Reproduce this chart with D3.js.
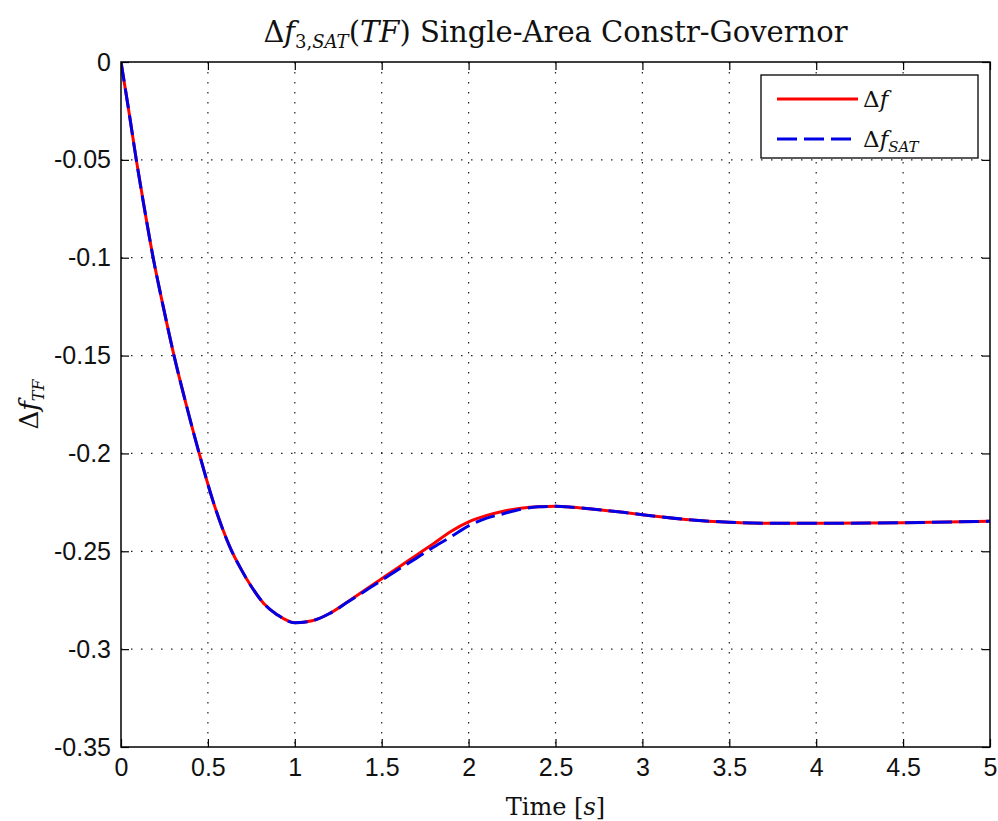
<!DOCTYPE html>
<html>
<head>
<meta charset="utf-8">
<script src="https://cdn.jsdelivr.net/npm/d3@7"></script>
<style>
  html, body { margin: 0; padding: 0; background: #fff; }
  svg { display: block; }
</style>
</head>
<body>
<div id="chart"></div>
<script>
// chart data
const timeVals = [0, 0.045, 0.088, 0.135, 0.185, 0.243, 0.305, 0.375, 0.45, 0.53, 0.58, 0.63, 0.69, 0.75, 0.82, 0.90,
  1.0, 1.1, 1.2, 1.3, 1.4, 1.5, 1.6, 1.7, 1.8, 1.9, 2.0, 2.1, 2.2, 2.3, 2.4, 2.5, 2.6, 2.75, 2.9, 3.0, 3.25, 3.5, 3.75, 4.0, 4.5, 5.0];
const dfVals = [0, -0.025, -0.050, -0.075, -0.100, -0.125, -0.150, -0.175, -0.200, -0.2245, -0.2375, -0.2485, -0.259, -0.268, -0.2765, -0.2825,
  -0.2865, -0.2855, -0.2818, -0.2760, -0.2700, -0.2640, -0.2580, -0.2520, -0.2460, -0.2398, -0.2350, -0.2318, -0.2295, -0.2280, -0.2272, -0.2270, -0.2275, -0.2288, -0.2302, -0.2313, -0.2337, -0.2352, -0.2357, -0.2357, -0.2354, -0.2346];
const dfSatVals = [0, -0.025, -0.050, -0.075, -0.100, -0.125, -0.150, -0.175, -0.200, -0.2245, -0.2375, -0.2485, -0.259, -0.268, -0.2765, -0.2825,
  -0.2865, -0.2855, -0.2818, -0.2762, -0.2705, -0.2648, -0.2590, -0.2535, -0.2478, -0.2425, -0.2370, -0.2332, -0.2308, -0.2285, -0.2273, -0.2270, -0.2275, -0.2288, -0.2302, -0.2313, -0.2337, -0.2352, -0.2357, -0.2357, -0.2354, -0.2346];

const xTicks = [0, 0.5, 1, 1.5, 2, 2.5, 3, 3.5, 4, 4.5, 5];
const xTickLabels = ["0", "0.5", "1", "1.5", "2", "2.5", "3", "3.5", "4", "4.5", "5"];
const yTicks = [0, -0.05, -0.1, -0.15, -0.2, -0.25, -0.3, -0.35];
const yTickLabels = ["0", "-0.05", "-0.1", "-0.15", "-0.2", "-0.25", "-0.3", "-0.35"];

const WIDTH = 998;
const HEIGHT = 821;
const PLOT = {left: 121, right: 990, top: 62, bottom: 747};
const TICK_LEN = 8;
const SANS = "'Liberation Sans', Arial, sans-serif";
const SERIF = "'DejaVu Serif', serif";

const svg = d3.select("#chart").append("svg").attr("width", WIDTH).attr("height", HEIGHT);
svg.append("rect").attr("width", WIDTH).attr("height", HEIGHT).attr("fill", "#fff");

const x = d3.scaleLinear().domain([0, 5]).range([PLOT.left, PLOT.right]);
const y = d3.scaleLinear().domain([-0.35, 0]).range([PLOT.bottom, PLOT.top]);

//dotted grid
const grid = svg.append("g").attr("stroke", "#222").attr("stroke-width", 1.2).attr("stroke-dasharray", "1.5,8.5");
grid.selectAll("line.gx").data(xTicks.slice(1, -1)).enter().append("line")
  .attr("x1", d => x(d)).attr("x2", d => x(d)).attr("y1", PLOT.top).attr("y2", PLOT.bottom);
grid.selectAll("line.gy").data(yTicks.slice(1, -1)).enter().append("line")
  .attr("y1", d => y(d)).attr("y2", d => y(d)).attr("x1", PLOT.left).attr("x2", PLOT.right);

//curves
svg.append("clipPath").attr("id", "clip").append("rect")
  .attr("x", PLOT.left).attr("y", PLOT.top).attr("width", PLOT.right - PLOT.left).attr("height", PLOT.bottom - PLOT.top);

const line = d3.line().x(d => x(d[0])).y(d => y(d[1])).curve(d3.curveMonotoneX);
const curves = svg.append("g").attr("clip-path", "url(#clip)").attr("fill", "none");
curves.append("path").attr("d", line(timeVals.map((t, i) => [t, dfVals[i]])))
  .attr("stroke", "#f00").attr("stroke-width", 3);
curves.append("path").attr("d", line(timeVals.map((t, i) => [t, dfSatVals[i]])))
  .attr("stroke", "#0000e6").attr("stroke-width", 3).attr("stroke-dasharray", "20,7");

//axes, all ticks pointing inwards
function styleAxis(g) {
  g.select(".domain").remove();
  g.selectAll(".tick line").attr("stroke", "#000").attr("stroke-width", 1.2);
  g.selectAll("text").attr("font-family", SANS).attr("font-size", 25).attr("fill", "#111");
}
svg.append("g").attr("transform", `translate(0,${PLOT.bottom})`)
  .call(d3.axisBottom(x).tickValues(xTicks).tickFormat((d, i) => xTickLabels[i]).tickSize(-TICK_LEN).tickPadding(11))
  .call(styleAxis);
svg.append("g").attr("transform", `translate(0,${PLOT.top})`)
  .call(d3.axisTop(x).tickValues(xTicks).tickFormat("").tickSize(-TICK_LEN))
  .call(styleAxis);
svg.append("g").attr("transform", `translate(${PLOT.left},0)`)
  .call(d3.axisLeft(y).tickValues(yTicks).tickFormat((d, i) => yTickLabels[i]).tickSize(-TICK_LEN).tickPadding(10))
  .call(styleAxis);
svg.append("g").attr("transform", `translate(${PLOT.right},0)`)
  .call(d3.axisRight(y).tickValues(yTicks).tickFormat("").tickSize(-TICK_LEN))
  .call(styleAxis);

svg.append("rect").attr("x", PLOT.left).attr("y", PLOT.top)
  .attr("width", PLOT.right - PLOT.left).attr("height", PLOT.bottom - PLOT.top)
  .attr("fill", "none").attr("stroke", "#000").attr("stroke-width", 1.5);

//title
const title = svg.append("text").attr("x", (PLOT.left + PLOT.right) / 2).attr("y", 42)
  .attr("text-anchor", "middle").attr("font-family", SERIF).attr("font-size", 29).attr("fill", "#111");
title.append("tspan").text("Δ");
title.append("tspan").attr("font-style", "italic").text("f");
title.append("tspan").attr("font-size", 18).attr("dy", 6).text("3,");
title.append("tspan").attr("font-size", 18).attr("font-style", "italic").text("SAT");
title.append("tspan").attr("dy", -6).text("(");
title.append("tspan").attr("font-style", "italic").text("TF");
title.append("tspan").text(") Single-Area Constr-Governor");

//axis labels
const xLabel = svg.append("text").attr("x", (PLOT.left + PLOT.right) / 2).attr("y", 815)
  .attr("text-anchor", "middle").attr("font-family", SERIF).attr("font-size", 24).attr("fill", "#111");
xLabel.append("tspan").text("Time [");
xLabel.append("tspan").attr("font-style", "italic").text("s");
xLabel.append("tspan").text("]");

const yLabel = svg.append("text")
  .attr("transform", `translate(38,${(PLOT.top + PLOT.bottom) / 2}) rotate(-90)`)
  .attr("text-anchor", "middle").attr("font-family", SERIF).attr("font-size", 26).attr("fill", "#111");
yLabel.append("tspan").text("Δ");
yLabel.append("tspan").attr("font-style", "italic").text("f");
yLabel.append("tspan").attr("font-size", 16).attr("font-style", "italic").attr("dy", 6).text("TF");

//legend
const legend = svg.append("g");
legend.append("rect").attr("x", 761).attr("y", 75).attr("width", 217).attr("height", 83)
  .attr("fill", "#fff").attr("stroke", "#000").attr("stroke-width", 1.3);
const legendItems = [
  {label: "f", sub: "", color: "#f00", dash: null, yPos: 99},
  {label: "f", sub: "SAT", color: "#0000e6", dash: "20,7", yPos: 139}
];
legendItems.forEach(item => {
  legend.append("line").attr("x1", 777).attr("x2", 858).attr("y1", item.yPos).attr("y2", item.yPos)
    .attr("stroke", item.color).attr("stroke-width", 3).attr("stroke-dasharray", item.dash);
  const t = legend.append("text").attr("x", 863).attr("y", item.yPos + 8)
    .attr("font-family", SERIF).attr("font-size", 23).attr("fill", "#111");
  t.append("tspan").text("Δ");
  t.append("tspan").attr("font-style", "italic").text(item.label);
  if (item.sub) t.append("tspan").attr("font-size", 15).attr("font-style", "italic").attr("dy", 5).text(item.sub);
});
</script>
</body>
</html>
